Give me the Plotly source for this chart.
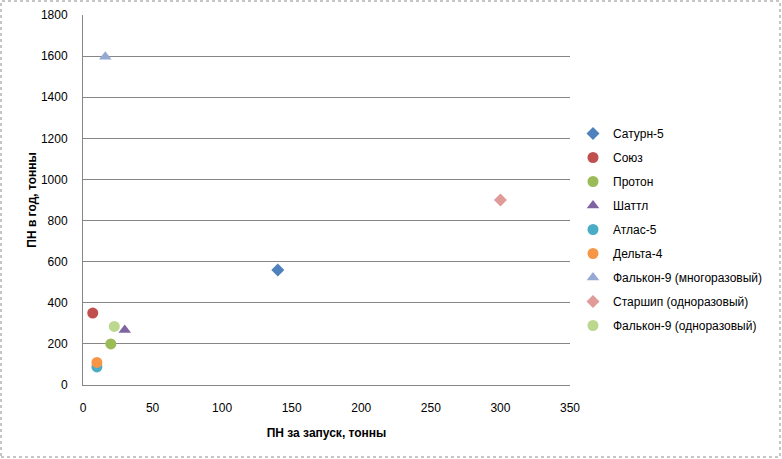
import plotly.graph_objects as go

names = ["Сатурн-5", "Союз", "Протон", "Шаттл", "Атлас-5", "Дельта-4",
         "Фалькон-9 (многоразовый)", "Старшип (одноразовый)", "Фалькон-9 (одноразовый)"]
payload_per_launch = [140, 7, 20, 30, 10, 10, 16, 300, 22.5]
payload_per_year = [560, 350, 200, 268, 88, 110, 1597, 900, 285]
colors = ["#4F81BD", "#C0504D", "#9BBB59", "#8064A2", "#4BACC6", "#F79646",
          "#95A9D3", "#E09A98", "#BCD88F"]
symbols = ["diamond", "circle", "circle", "triangle-up", "circle", "circle",
           "triangle-up", "diamond", "circle"]
sizes = [10, 11, 11, 11, 11, 11, 11, 10, 11]

x_ticks = [0, 50, 100, 150, 200, 250, 300, 350]
y_ticks = [0, 200, 400, 600, 800, 1000, 1200, 1400, 1600, 1800]

FONT = "Liberation Sans, Arial, sans-serif"

fig = go.Figure()
for i, n in enumerate(names):
    fig.add_trace(go.Scatter(
        x=[payload_per_launch[i]], y=[payload_per_year[i]], mode="markers", name=n,
        legendgroup=n,
        marker=dict(color=colors[i], symbol=symbols[i], size=sizes[i],
                    line=dict(width=0)),
    ))

L, R, T, B = 83, 212, 15, 74
W, H = 782, 459
pw, ph = W - L - R, H - T - B

fig.update_layout(
    width=W, height=H,
    margin=dict(l=L, r=R, t=T, b=B, pad=0, autoexpand=False),
    paper_bgcolor="white", plot_bgcolor="white",
    font=dict(family=FONT, size=12, color="#000000"),
    showlegend=True,
    legend=dict(x=(573 - L) / pw, y=(385 - 119) / ph, xanchor="left", yanchor="top",
                font=dict(family=FONT, size=12, color="#000000"),
                tracegroupgap=5, itemwidth=30, bgcolor="rgba(0,0,0,0)"),
    xaxis=dict(range=[0, 350], tickvals=x_ticks, showgrid=False, zeroline=False,
               showline=True, linecolor="#868686", linewidth=1, ticks="",
               ticklabelstandoff=12, automargin=False,
               title=dict(text="<b>ПН за запуск, тонны</b>", font=dict(size=12), standoff=14)),
    yaxis=dict(range=[0, 1800], tickvals=y_ticks, showgrid=True, gridcolor="#868686",
               gridwidth=1, zeroline=False, showline=True, linecolor="#868686",
               linewidth=1, ticks="", ticklabelstandoff=12, automargin=False,
               title=dict(text="<b>ПН в год, тонны</b>", font=dict(size=12), standoff=1)),
    shapes=[dict(type="rect", xref="paper", yref="paper",
                 x0=(1 - L) / pw, x1=(780 - L) / pw,
                 y0=(385 - 457) / ph, y1=(385 - 1) / ph,
                 line=dict(color="#8C8C8C", width=1, dash="dot"), layer="below")],
)

fig.write_html("out.html", config={"displayModeBar": False},
               post_script="document.body.style.margin='0';document.body.style.overflow='hidden';")
